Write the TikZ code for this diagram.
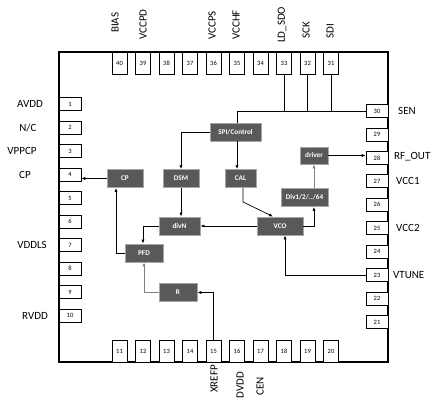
\documentclass[tikz,border=0pt]{standalone}
\usepackage{fontspec}
\setmainfont{Carlito}
\usetikzlibrary{arrows.meta}
\definecolor{blkfill}{HTML}{595959}
\definecolor{blkline}{HTML}{A6A6A6}
\begin{document}
\begin{tikzpicture}[x=1pt,y=-1pt,
 pinbox/.style={draw, fill=white, line width=0.7pt, inner sep=0pt, font=\fontsize{6.5}{6.5}\selectfont},
 lpin/.style={pinbox, minimum width=22pt, minimum height=13pt},
 tpin/.style={pinbox, minimum width=15pt, minimum height=22pt},
 blk/.style={draw=blkline, line width=0.9pt, fill=blkfill, text=white, font=\fontsize{7.2}{7.2}\selectfont\bfseries, inner sep=0pt, minimum height=18pt},
 lbl/.style={font=\fontsize{11}{11}\selectfont, inner sep=0pt},
 vlbl/.style={lbl, rotate=90, anchor=west},
 wire/.style={line width=0.7pt},
 arr/.style={wire, -{Latex[length=4pt,width=3.2pt]}},
]
\useasboundingbox (0,0) rectangle (439,406);
% chip outline
\draw[line width=1.3pt] (59,52) rectangle (388,362);
% pins
\foreach \i [evaluate=\i as \yy using 104+23.5*(\i-1)] in {1,...,10}
  \node[lpin] (p\i) at (70,\yy) {\i};
\foreach \i [evaluate=\i as \xx using 119.5+23.5*(\i-11)] in {11,...,20}
  \node[tpin] (p\i) at (\xx,351) {\i};
\foreach \i [evaluate=\i as \yy using 111+23.45*(30-\i)] in {21,...,30}
  \node[lpin] (p\i) at (377,\yy) {\i};
\foreach \i [evaluate=\i as \xx using 119.5+23.5*(40-\i)] in {31,...,40}
  \node[tpin] (p\i) at (\xx,63) {\i};
% pin labels
\node[lbl] (lavdd) at (30,104) {AVDD};
\node[lbl] (lnc) at (28,128) {N/C};
\node[lbl] (lvppcp) at (22,151) {VPPCP};
\node[lbl] (lcp) at (25,175) {CP};
\node[lbl] (lvddls) at (32,245) {VDDLS};
\node[lbl] (lrvdd) at (35,316) {RVDD};
\node[lbl, anchor=west] (lsen) at (398,111) {SEN};
\node[lbl, anchor=west] (lrfout) at (394,157) {RF\_OUT};
\node[lbl, anchor=west] (lvcc1) at (396,181) {VCC1};
\node[lbl, anchor=west] (lvcc2) at (396,228) {VCC2};
\node[lbl, anchor=west] (lvtune) at (393,275) {VTUNE};
\node[vlbl] (lbias) at (115,33) {BIAS};
\node[vlbl] (lvccpd) at (143,40) {VCCPD};
\node[vlbl] (lvccps) at (212,40) {VCCPS};
\node[vlbl] (lvcchf) at (236,40) {VCCHF};
\node[vlbl] (lldsdo) at (282,43) {LD\_SDO};
\node[vlbl] (lsck) at (306,39) {SCK};
\node[vlbl] (lsdi) at (330,39) {SDI};
\node[vlbl, anchor=east] (lxrefp) at (214,365) {XREFP};
\node[vlbl, anchor=east] (ldvdd) at (240,372) {DVDD};
\node[vlbl, anchor=east] (lcen) at (260,377) {CEN};
% blocks
\node[blk, minimum width=51pt] (spi) at (235.5,132) {SPI/Control};
\node[blk, minimum width=36pt] (cp) at (125,178.5) {CP};
\node[blk, minimum width=36pt] (dsm) at (181,178.5) {DSM};
\node[blk, minimum width=31pt] (cal) at (240.5,178.5) {CAL};
\node[blk, minimum width=28pt, minimum height=17pt] (drv) at (314,155.5) {driver};
\node[blk, minimum width=47pt] (div) at (304.5,197.5) {Div1/2/../64};
\node[blk, minimum width=46pt] (vco) at (280,226) {VCO};
\node[blk, minimum width=41pt] (divn) at (179.5,226) {divN};
\node[blk, minimum width=38pt] (pfd) at (144,253) {PFD};
\node[blk, minimum width=38pt] (r) at (178,292.5) {R};
% connectors
\draw[wire] (p30.west) -| ([xshift=1.5pt]spi.north);
\foreach \p in {31,32,33}
  \draw[wire] (p\p.south) -- (p\p.south |- p30.west);
\draw[arr] (spi.west) -| (dsm.north);
\draw[arr] ([xshift=1.5pt]spi.south) -- ([xshift=1.5pt]spi.south |- cal.north);
\draw[arr] ([xshift=2.5pt]cal.south) -- ++(0,14) -- ([xshift=-7pt]vco.north);
\draw[arr] (vco.east) -| (div.south -| drv.south);
\draw[arr, draw=gray] (div.north -| drv.south) -- (drv.south);
\draw[arr] (drv.east) -- (drv.east -| p28.west);
\draw[arr] (vco.west) -- (divn.east);
\draw[arr] (dsm.south) -- (dsm.south |- divn.north);
\draw[arr] (divn.west) -| ([xshift=-1pt]pfd.north);
\draw[arr] (pfd.west) -| ([xshift=-9pt]cp.south);
\draw[arr] (cp.west) -- (cp.west -| p4.east);
\draw[arr, draw=gray] (r.west) -| (pfd.south);
\draw[arr] (p15.north) |- (r.east);
\draw[arr] (p23.west) -| ([xshift=5pt]vco.south);
\end{tikzpicture}
\end{document}
